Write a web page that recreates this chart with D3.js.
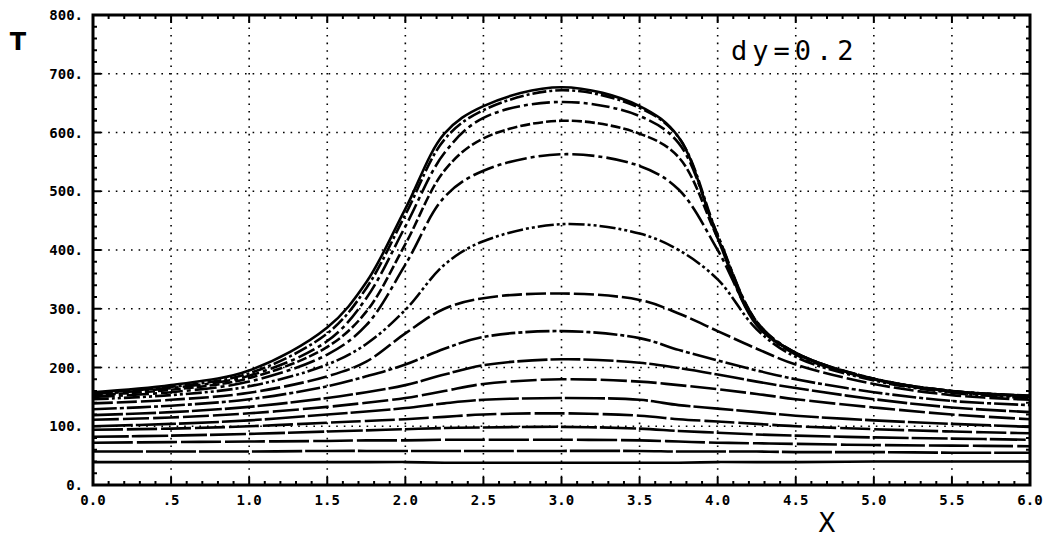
<!DOCTYPE html>
<html>
<head>
<meta charset="utf-8">
<script src="https://cdn.jsdelivr.net/npm/d3@7"></script>
<style>
  body { margin: 0; background: #fff; }
  .ticklab { font-family: "DejaVu Sans Mono", monospace; font-weight: bold; font-size: 14px; fill: #000; }
</style>
</head>
<body>
<script>
// temperature profiles T(x) for successive y levels, dy = 0.2

const xs = [0, 0.5, 1, 1.5, 1.75, 2, 2.25, 2.5, 3, 3.5, 3.75, 4, 4.25, 4.5, 5, 5.5, 6];

const c1  = [158, 170, 195, 268, 345, 470, 598, 645, 677, 645, 592, 420, 272, 225, 180, 160, 152];
const c2  = [157, 167, 190, 258, 335, 460, 588, 638, 672, 642, 592, 425, 275, 225, 181, 160, 152];
const c3  = [155, 165, 186, 245, 318, 440, 565, 625, 652, 628, 582, 425, 278, 225, 181, 160, 151];
const c4  = [153, 162, 182, 235, 295, 410, 535, 590, 620, 598, 558, 420, 278, 224, 180, 159, 151];
const c5  = [150, 158, 176, 222, 272, 375, 490, 535, 563, 543, 503, 400, 275, 222, 180, 158, 150];
const c6  = [146, 153, 168, 205, 240, 298, 375, 415, 444, 428, 400, 350, 265, 218, 178, 157, 148];
const c7  = [139, 145, 157, 185, 210, 258, 300, 318, 326, 315, 292, 262, 232, 205, 172, 153, 145];
const c8  = [129, 135, 146, 168, 185, 205, 232, 252, 262, 250, 230, 212, 195, 180, 158, 143, 136];
const c9  = [119, 124, 133, 148, 158, 170, 188, 204, 214, 208, 199, 188, 176, 165, 146, 132, 124];
const c10 = [111, 115, 122, 133, 140, 148, 160, 172, 180, 176, 170, 163, 155, 146, 132, 120, 112];
const c11 = [100, 104, 110, 120, 125, 131, 139, 145, 148, 145, 136, 130, 124, 118, 110, 104, 99];
const c12 = [94, 96, 100, 106, 109, 112, 116, 120, 122, 118, 112, 108, 104, 100, 95, 91, 88];
const c13 = [82, 84, 87, 91, 93, 95, 97, 98, 99, 96, 92, 89, 86, 84, 81, 79, 77];
const c14 = [72, 73, 74, 75, 76, 76, 77, 77, 77, 76, 74, 72, 71, 70, 68, 67, 66];
const c15 = [57, 57, 57, 58, 58, 58, 58, 58, 58, 58, 57, 57, 57, 56, 56, 55, 55];
const c16 = [39, 39, 39, 39, 39, 39, 38, 38, 38, 38, 38, 39, 39, 39, 40, 40, 40];

const curves = [c1, c2, c3, c4, c5, c6, c7, c8, c9, c10, c11, c12, c13, c14, c15, c16];

const xTicks = [0, 0.5, 1, 1.5, 2, 2.5, 3, 3.5, 4, 4.5, 5, 5.5, 6];
const xTickLabels = ["0.0", ".5", "1.0", "1.5", "2.0", "2.5", "3.0", "3.5", "4.0", "4.5", "5.0", "5.5", "6.0"];
const yTicks = [0, 100, 200, 300, 400, 500, 600, 700, 800];
const yTickLabels = ["0.", "100.", "200.", "300.", "400.", "500.", "600.", "700.", "800."];

const width = 1048, height = 539;
const margin = { top: 15, right: 18, bottom: 54, left: 93 };

const svg = d3.select('body').append('svg')
    .attr('width', width)
    .attr('height', height);

const xScale = d3.scaleLinear().domain([0, 6]).range([margin.left, width - margin.right]);
const yScale = d3.scaleLinear().domain([0, 800]).range([height - margin.bottom, margin.top]);

// dotted grid
svg.append('g')
    .selectAll('line')
    .data(xTicks.slice(1, -1))
    .enter()
    .append('line')
    .attr('x1', d => xScale(d)).attr('x2', d => xScale(d))
    .attr('y1', yScale(0)).attr('y2', yScale(800))
    .attr('stroke', '#000').attr('stroke-width', 1.6)
    .attr('stroke-dasharray', '1.6,6');

svg.append('g')
    .selectAll('line')
    .data(yTicks.slice(1, -1))
    .enter()
    .append('line')
    .attr('y1', d => yScale(d)).attr('y2', d => yScale(d))
    .attr('x1', xScale(0)).attr('x2', xScale(6))
    .attr('stroke', '#000').attr('stroke-width', 1.6)
    .attr('stroke-dasharray', '1.6,6');

// curves
const dashes = ['none', '14,3,3,3', '18,4,4,4', '10,3', '22,4,4,4', '16,3,3,3,3,3', '20,4',
    '24,3,4,3', '30,3', '26,4', '40,3', '30,4', '36,3', '40,4', '50,3', 'none'];

const line = d3.line()
    .x((d, i) => xScale(xs[i]))
    .y(d => yScale(d))
    .curve(d3.curveCatmullRom.alpha(0.5));

svg.append('g')
    .selectAll('path')
    .data(curves)
    .enter()
    .append('path')
    .attr('d', line)
    .attr('fill', 'none')
    .attr('stroke', '#000')
    .attr('stroke-width', 2.6)
    .attr('stroke-linejoin', 'round')
    .attr('stroke-dasharray', (d, i) => dashes[i]);

// frame
svg.append('rect')
    .attr('x', xScale(0)).attr('y', yScale(800))
    .attr('width', xScale(6) - xScale(0))
    .attr('height', yScale(0) - yScale(800))
    .attr('fill', 'none')
    .attr('stroke', '#000')
    .attr('stroke-width', 3);

// minor / major ticks pointing inward
const xMinor = d3.range(0, 61).map(d => d / 10);
const yMinor = d3.range(0, 41).map(d => d * 20);

svg.append('g').selectAll('line').data(xMinor).enter().append('line')
    .attr('x1', d => xScale(d)).attr('x2', d => xScale(d))
    .attr('y1', yScale(0)).attr('y2', (d, i) => yScale(0) - (i % 5 === 0 ? 8 : 4))
    .attr('stroke', '#000').attr('stroke-width', 2);

svg.append('g').selectAll('line').data(xMinor).enter().append('line')
    .attr('x1', d => xScale(d)).attr('x2', d => xScale(d))
    .attr('y1', yScale(800)).attr('y2', (d, i) => yScale(800) + (i % 5 === 0 ? 8 : 4))
    .attr('stroke', '#000').attr('stroke-width', 2);

svg.append('g').selectAll('line').data(yMinor).enter().append('line')
    .attr('y1', d => yScale(d)).attr('y2', d => yScale(d))
    .attr('x1', xScale(0)).attr('x2', (d, i) => xScale(0) + (i % 5 === 0 ? 8 : 4))
    .attr('stroke', '#000').attr('stroke-width', 2);

svg.append('g').selectAll('line').data(yMinor).enter().append('line')
    .attr('y1', d => yScale(d)).attr('y2', d => yScale(d))
    .attr('x1', xScale(6)).attr('x2', (d, i) => xScale(6) - (i % 5 === 0 ? 8 : 4))
    .attr('stroke', '#000').attr('stroke-width', 2);

// tick labels
svg.append('g').selectAll('text').data(xTicks).enter().append('text')
    .attr('class', 'ticklab')
    .attr('x', d => xScale(d))
    .attr('y', yScale(0) + 20)
    .attr('text-anchor', 'middle')
    .text((d, i) => xTickLabels[i]);

svg.append('g').selectAll('text').data(yTicks).enter().append('text')
    .attr('class', 'ticklab')
    .attr('x', xScale(0) - 10)
    .attr('y', d => yScale(d) + 5)
    .attr('text-anchor', 'end')
    .text((d, i) => yTickLabels[i]);

// axis titles and annotation
svg.append('text')
    .attr('x', 18).attr('y', 50)
    .attr('font-family', 'DejaVu Sans, sans-serif')
    .attr('font-size', 24)
    .attr('font-weight', 'bold')
    .attr('text-anchor', 'middle')
    .text('T');

svg.append('text')
    .attr('x', 827).attr('y', 532)
    .attr('font-family', 'DejaVu Sans, sans-serif')
    .attr('font-size', 26)
    .attr('text-anchor', 'middle')
    .text('X');

svg.append('text')
    .attr('x', 731).attr('y', 60)
    .attr('font-family', 'DejaVu Sans Mono, monospace')
    .attr('font-size', 27)
    .attr('letter-spacing', 5)
    .text('dy=0.2');
</script>
</body>
</html>
